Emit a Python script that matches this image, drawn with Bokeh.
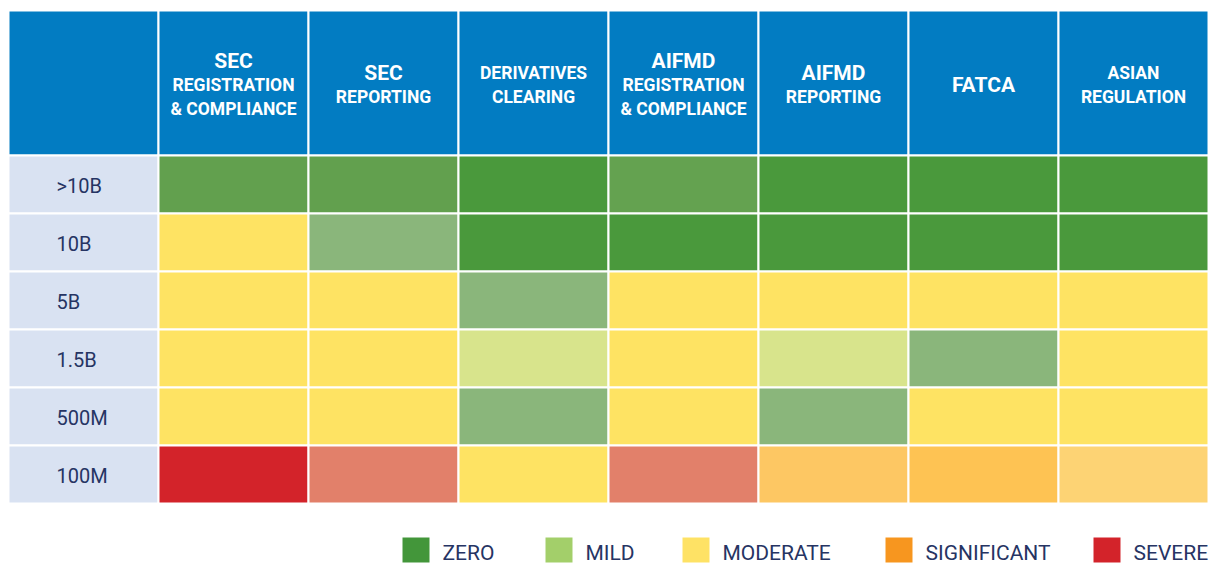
from bokeh.plotting import figure
from bokeh.models import Range1d, ColumnDataSource
from bokeh.core.properties import value
from bokeh.embed import file_html
from bokeh.resources import INLINE

# ---------------- data ----------------
row_labels = [">10B", "10B", "5B", "1.5B", "500M", "100M"]
col_titles = ["SEC", "SEC", "", "AIFMD", "AIFMD", "FATCA", ""]
col_subtitles = [
    ["REGISTRATION", "& COMPLIANCE"],
    ["REPORTING"],
    ["DERIVATIVES", "CLEARING"],
    ["REGISTRATION", "& COMPLIANCE"],
    ["REPORTING"],
    [],
    ["ASIAN", "REGULATION"],
]
cell_colors = [
    ["#62a04e", "#62a04e", "#4a993c", "#64a250", "#4a993c", "#4a993c", "#4a993c"],
    ["#fee363", "#8ab67b", "#4a993c", "#4a993c", "#4a993c", "#4a993c", "#4a993c"],
    ["#fee363", "#fee363", "#8ab67b", "#fee363", "#fee363", "#fee363", "#fee363"],
    ["#fee363", "#fee363", "#d8e48c", "#fee363", "#d8e48c", "#8ab67b", "#fee363"],
    ["#fee363", "#fee363", "#8ab67b", "#fee363", "#8ab67b", "#fee363", "#fee363"],
    ["#d3232a", "#e2806a", "#fee363", "#e2806a", "#fdc763", "#fec353", "#fdd374"],
]
legend_labels = ["ZERO", "MILD", "MODERATE", "SIGNIFICANT", "SEVERE"]
legend_colors = ["#43963a", "#a3cf6a", "#fee265", "#f7961f", "#d3232a"]

# ---------------- layout constants ----------------
W, H = 1222, 564
X0 = 8
COL_W = 150
HEAD_TOP, HEAD_BOT = 10, 155
ROW_H = 58
HEADER_BLUE = "#027cc2"
LABEL_BG = "#d9e2f2"
NAVY = "#263463"
legend_x = [402, 545, 682, 885, 1093]

p = figure(width=W, height=H, output_backend="svg", toolbar_location=None,
           x_range=Range1d(0, W), y_range=Range1d(H, 0),
           min_border=0, outline_line_color=None)
p.axis.visible = False
p.grid.visible = False
p.background_fill_color = "white"
p.border_fill_color = "white"

n_cols = len(col_titles)
n_rows = len(row_labels)

# header cells
hx = [X0 + (i + 0.5) * COL_W for i in range(n_cols + 1)]
p.rect(x=hx, y=[(HEAD_TOP + HEAD_BOT) / 2] * len(hx), width=COL_W,
       height=HEAD_BOT - HEAD_TOP, fill_color=HEADER_BLUE,
       line_color="white", line_width=2)

# header texts
hc = 84.5
sp = 24
tx, ty, tt, ts = [], [], [], []
for i in range(n_cols):
    lines = []
    if col_titles[i]:
        lines.append((col_titles[i], "21px"))
    for s in col_subtitles[i]:
        lines.append((s, "17.5px"))
    n = len(lines)
    for k, (txt, sz) in enumerate(lines):
        tx.append(X0 + (i + 1.5) * COL_W)
        ty.append(hc + (k - (n - 1) / 2) * sp)
        tt.append(txt)
        ts.append(sz)
src_h = ColumnDataSource(dict(x=tx, y=ty, text=tt, size=ts))
p.text(x="x", y="y", text="text", text_font_size="size", source=src_h,
       text_font=value("Roboto"), text_font_style="bold", text_color="white",
       text_align="center", text_baseline="middle")

# row label cells
ry = [HEAD_BOT + (r + 0.5) * ROW_H for r in range(n_rows)]
p.rect(x=[X0 + 0.5 * COL_W] * n_rows, y=ry, width=COL_W, height=ROW_H,
       fill_color=LABEL_BG, line_color="white", line_width=2)
p.text(x=[56] * n_rows, y=[y + 1 for y in ry], text=row_labels,
       text_font=value("Roboto"), text_font_size="20px", text_color=NAVY,
       text_align="left", text_baseline="middle")

# data cells
cx, cy, cc = [], [], []
for r in range(n_rows):
    for c in range(n_cols):
        cx.append(X0 + (c + 1.5) * COL_W)
        cy.append(ry[r])
        cc.append(cell_colors[r][c])
p.rect(x=cx, y=cy, width=COL_W, height=ROW_H, fill_color=cc,
       line_color="white", line_width=2)

# legend
LY = 549.5
p.rect(x=[x + 13.5 for x in legend_x], y=[LY] * len(legend_x), width=27, height=25,
       fill_color=legend_colors, line_color=None)
p.text(x=[x + 40 for x in legend_x], y=[LY + 3] * len(legend_x), text=legend_labels,
       text_font=value("Roboto"), text_font_size="21px",
       text_color=NAVY, text_align="left", text_baseline="middle")

open("out.html", "w").write(file_html(p, INLINE))
